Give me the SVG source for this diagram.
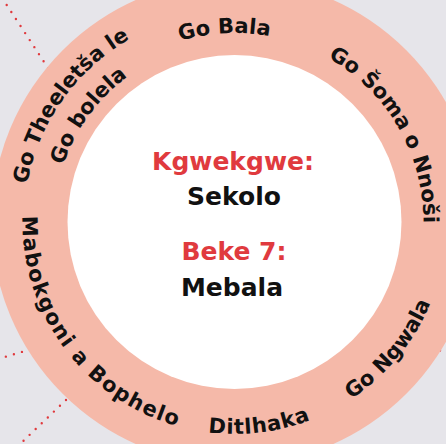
<svg xmlns="http://www.w3.org/2000/svg" xmlns:xlink="http://www.w3.org/1999/xlink" width="446" height="444" viewBox="0 0 446 444">
<style>
.ring{font-family:"DejaVu Sans",sans-serif;font-weight:bold;font-size:21px;fill:#111}
.ctr{font-family:"DejaVu Sans",sans-serif;font-weight:bold;font-size:25px;text-anchor:middle}
.red{fill:#e03a3e}
.blk{fill:#111}
.dot{fill:none;stroke:#e03a3e;stroke-width:2.4;stroke-linecap:round;stroke-dasharray:0 8.4}
</style>
<defs>
<path id="pBala" d="M46.91,198.97 A189,189 0 0 1 418.66,179.48"/>
<path id="pSoma" d="M169.86,44.40 A189,189 0 0 1 355.99,366.78"/>
<path id="pThee" d="M83.10,368.82 A211,211 0 0 1 322.59,30.24"/>
<path id="pBol" d="M104.78,347.00 A180,180 0 0 1 313.41,60.22"/>
<path id="pNgw" d="M130.11,406.52 A212,212 0 0 0 395.71,84.32"/>
<path id="pDit" d="M31.76,283.98 A212,212 0 0 0 446.21,233.10"/>
<path id="pMab" d="M80.72,76.07 A212,212 0 0 0 329.09,411.73"/>
</defs>
<rect x="0" y="0" width="446" height="444" fill="#e6e5ea"/>
<g id="connectors">
<line class="dot" x1="6.7" y1="5" x2="52" y2="74"/>
<line class="dot" x1="30" y1="349.5" x2="-2" y2="359"/>
<line class="dot" x1="66" y1="400" x2="18" y2="446"/>
<line class="dot" x1="440" y1="350.5" x2="454" y2="346"/>
</g>
<g id="ring">
<circle cx="234.5" cy="222" r="243" fill="#f5b9a9"/>
<circle cx="234.5" cy="222" r="167" fill="#ffffff"/>
</g>
<g id="label-go-bala"><text class="ring"><textPath xlink:href="#pBala" href="#pBala" startOffset="50%" text-anchor="middle">Go Bala</textPath></text></g>
<g id="label-go-soma"><text class="ring"><textPath xlink:href="#pSoma" href="#pSoma" startOffset="50%" text-anchor="middle">Go Šoma o Nnoši</textPath></text></g>
<g id="label-go-theeletsa"><text class="ring"><textPath xlink:href="#pThee" href="#pThee" startOffset="50%" text-anchor="middle">Go Theeletša le</textPath></text>
<text class="ring"><textPath xlink:href="#pBol" href="#pBol" startOffset="50%" text-anchor="middle">Go bolela</textPath></text></g>
<g id="label-go-ngwala"><text class="ring"><textPath xlink:href="#pNgw" href="#pNgw" startOffset="50%" text-anchor="middle">Go Ngwala</textPath></text></g>
<g id="label-ditlhaka"><text class="ring" letter-spacing="0.7"><textPath xlink:href="#pDit" href="#pDit" startOffset="50%" text-anchor="middle">Ditlhaka</textPath></text></g>
<g id="label-mabokgoni"><text class="ring" letter-spacing="1.4"><textPath xlink:href="#pMab" href="#pMab" startOffset="50%" text-anchor="middle">Mabokgoni a Bophelo</textPath></text></g>
<g id="center">
<text class="ctr red" x="233" y="170">Kgwekgwe:</text>
<text class="ctr blk" x="234" y="205">Sekolo</text>
<text class="ctr red" x="234" y="260">Beke 7:</text>
<text class="ctr blk" x="232" y="296">Mebala</text>
</g>
</svg>
